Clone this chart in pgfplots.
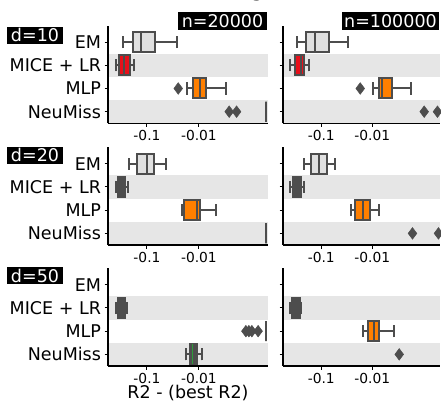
\documentclass[border=0pt]{standalone}
\usepackage{fontspec}
\setmainfont{DejaVu Sans}
\usepackage{pgfplots}
\pgfplotsset{compat=1.18}
\usepgfplotslibrary{statistics}
\definecolor{boxgray}{HTML}{4D4D4D}
\definecolor{band}{HTML}{E6E6E6}
\definecolor{emfill}{HTML}{E0E0E0}
\definecolor{micered}{HTML}{E8101A}
\definecolor{mlporange}{HTML}{FF7F00}
\definecolor{nmgreen}{HTML}{2E9A3A}
\newcommand{\lab}{\fontsize{17.5}{20}\selectfont}
\newcommand{\tlab}{\fontsize{13.8}{16}\selectfont}
\pgfplotsset{
  panel/.style={
    scale only axis, width=160pt, height=97.5pt,
    xmin=0.25, xmax=3.33, ymin=-0.5, ymax=3.7,
    axis x line*=bottom, axis y line*=left,
    axis line style={black, line width=1.2pt},
    xtick={1,2}, xticklabels={-0.1,-0.01},
    ytick={0,1,2,3},
    tick align=outside, major tick length=3.5pt,
    tick style={black, line width=1pt},
    xticklabel style={font=\tlab},
    yticklabel style={font=\lab},
    clip=false, anchor=south west, axis on top,
    boxplot/box extend=0.86, boxplot/whisker extend=0.52,
    boxplot/every box/.style={line width=2pt},
    boxplot/every whisker/.style={line width=2pt},
    boxplot/every median/.style={line width=2pt},
  },
  leftpanel/.style={panel, yticklabels={NeuMiss,MLP,MICE + LR,EM}},
  rightpanel/.style={panel, width=157pt, yticklabels={}},
  bp/.style={draw=boxgray, fill=#1, line width=2pt},
  outl/.style={only marks, mark=diamond*, mark size=5.8pt, mark options={draw=boxgray, fill=boxgray, line width=0.5pt}},
}
\begin{document}
\begin{tikzpicture}
% title (cut by the top edge)
\node[anchor=base east, inner sep=0pt, font=\fontsize{21.5}{24}\selectfont] at (389pt,405.5pt) {Gaussian self-masking (nonlinear)};

%%%%%%%% d=10, n=20000
\begin{axis}[leftpanel, at={(108pt,278.7pt)}]
\fill[band] (axis cs:0.25,1.5) rectangle (axis cs:3.33,2.5);
\fill[band] (axis cs:0.25,-0.5) rectangle (axis cs:3.33,0.5);
\addplot[bp=emfill, boxplot prepared={draw position=3, lower whisker=0.544, lower quartile=0.737, median=0.879, upper quartile=1.154, upper whisker=1.583}] coordinates {};
\addplot[bp=micered, boxplot prepared={draw position=2, lower whisker=0.404, lower quartile=0.467, median=0.558, upper quartile=0.673, upper whisker=0.750}] coordinates {};
\addplot[bp=mlporange, boxplot prepared={draw position=1, lower whisker=1.763, lower quartile=1.890, median=2.019, upper quartile=2.135, upper whisker=2.519}] coordinates {};
\addplot[outl] coordinates {(1.602,1)};
\addplot[bp=nmgreen, boxplot prepared={draw position=0, lower whisker=3.30, lower quartile=3.30, median=3.30, upper quartile=3.30, upper whisker=3.30}] coordinates {};
\addplot[outl] coordinates {(2.583,0) (2.725,0)};
\end{axis}

%%%%%%%% d=10, n=100000
\begin{axis}[rightpanel, at={(283pt,278.7pt)}]
\fill[band] (axis cs:0.25,1.5) rectangle (axis cs:3.33,2.5);
\fill[band] (axis cs:0.25,-0.5) rectangle (axis cs:3.33,0.5);
\addplot[bp=emfill, boxplot prepared={draw position=3, lower whisker=0.524, lower quartile=0.706, median=0.869, upper quartile=1.143, upper whisker=1.524}] coordinates {};
\addplot[bp=micered, boxplot prepared={draw position=2, lower whisker=0.392, lower quartile=0.490, median=0.602, upper quartile=0.667, upper whisker=0.751}] coordinates {};
\addplot[bp=mlporange, boxplot prepared={draw position=1, lower whisker=2.006, lower quartile=2.124, median=2.196, upper quartile=2.386, upper whisker=2.759}] coordinates {};
\addplot[outl] coordinates {(1.765,1)};
\addplot[outl] coordinates {(3.02,0) (3.28,0)};
\end{axis}

%%%%%%%% d=20, n=20000
\begin{axis}[leftpanel, at={(108pt,157pt)}]
\fill[band] (axis cs:0.25,1.5) rectangle (axis cs:3.33,2.5);
\fill[band] (axis cs:0.25,-0.5) rectangle (axis cs:3.33,0.5);
\addplot[bp=emfill, boxplot prepared={draw position=3, lower whisker=0.654, lower quartile=0.802, median=0.994, upper quartile=1.135, upper whisker=1.360}] coordinates {};
\addplot[bp=boxgray, boxplot prepared={draw position=2, lower whisker=0.398, lower quartile=0.448, median=0.513, upper quartile=0.577, upper whisker=0.640}] coordinates {};
\addplot[bp=mlporange, boxplot prepared={draw position=1, lower whisker=1.667, lower quartile=1.717, median=1.956, upper quartile=2.019, upper whisker=2.327}] coordinates {};
\addplot[bp=nmgreen, boxplot prepared={draw position=0, lower whisker=3.30, lower quartile=3.30, median=3.30, upper quartile=3.30, upper whisker=3.30}] coordinates {};
\end{axis}

%%%%%%%% d=20, n=100000
\begin{axis}[rightpanel, at={(283pt,157pt)}]
\fill[band] (axis cs:0.25,1.5) rectangle (axis cs:3.33,2.5);
\fill[band] (axis cs:0.25,-0.5) rectangle (axis cs:3.33,0.5);
\addplot[bp=emfill, boxplot prepared={draw position=3, lower whisker=0.667, lower quartile=0.798, median=0.947, upper quartile=1.112, upper whisker=1.275}] coordinates {};
\addplot[bp=boxgray, boxplot prepared={draw position=2, lower whisker=0.392, lower quartile=0.445, median=0.510, upper quartile=0.602, upper whisker=0.667}] coordinates {};
\addplot[bp=mlporange, boxplot prepared={draw position=1, lower whisker=1.588, lower quartile=1.667, median=1.829, upper quartile=1.947, upper whisker=2.143}] coordinates {};
\addplot[outl] coordinates {(2.79,0) (3.30,0)};
\end{axis}

%%%%%%%% d=50, n=20000
\begin{axis}[leftpanel, at={(108pt,36pt)}]
\fill[band] (axis cs:0.25,1.5) rectangle (axis cs:3.33,2.5);
\fill[band] (axis cs:0.25,-0.5) rectangle (axis cs:3.33,0.5);
\addplot[bp=boxgray, boxplot prepared={draw position=2, lower whisker=0.404, lower quartile=0.437, median=0.507, upper quartile=0.577, upper whisker=0.609}] coordinates {};
\addplot[outl] coordinates {(2.904,1) (2.962,1) (3.019,1) (3.140,1)};
\addplot[bp=mlporange, boxplot prepared={draw position=1, lower whisker=3.30, lower quartile=3.30, median=3.30, upper quartile=3.30, upper whisker=3.30}] coordinates {};
\addplot[bp=boxgray, boxplot/every median/.style={draw=nmgreen, line width=0.8pt}, boxplot prepared={draw position=0, lower whisker=1.744, lower quartile=1.827, median=1.878, upper quartile=1.956, upper whisker=2.052}] coordinates {};
\end{axis}

%%%%%%%% d=50, n=100000
\begin{axis}[rightpanel, at={(283pt,36pt)}]
\fill[band] (axis cs:0.25,1.5) rectangle (axis cs:3.33,2.5);
\fill[band] (axis cs:0.25,-0.5) rectangle (axis cs:3.33,0.5);
\addplot[bp=boxgray, boxplot prepared={draw position=2, lower whisker=0.392, lower quartile=0.425, median=0.500, upper quartile=0.588, upper whisker=0.608}] coordinates {};
\addplot[bp=mlporange, boxplot prepared={draw position=1, lower whisker=1.829, lower quartile=1.908, median=2.040, upper quartile=2.124, upper whisker=2.418}] coordinates {};
\addplot[outl] coordinates {(2.53,0)};
\end{axis}

% labels
\tikzset{tag/.style={fill=black, text=white, font=\lab, inner sep=0pt, minimum height=17.3pt}}
\node[tag, minimum width=89pt] at (222.5pt,381pt) {n=20000};
\node[tag, minimum width=97.6pt] at (390.5pt,381pt) {n=100000};
\node[tag, minimum width=55.4pt] at (35pt,366.7pt) {d=10};
\node[tag, minimum width=55.4pt] at (35pt,246.7pt) {d=20};
\node[tag, minimum width=55.4pt] at (35pt,126.2pt) {d=50};
\node[font=\lab, inner sep=0pt] at (188pt,9pt) {R2 - (best R2)};
\pgfresetboundingbox
\useasboundingbox (0pt,0pt) rectangle (441pt,402pt);
\end{tikzpicture}
\end{document}
